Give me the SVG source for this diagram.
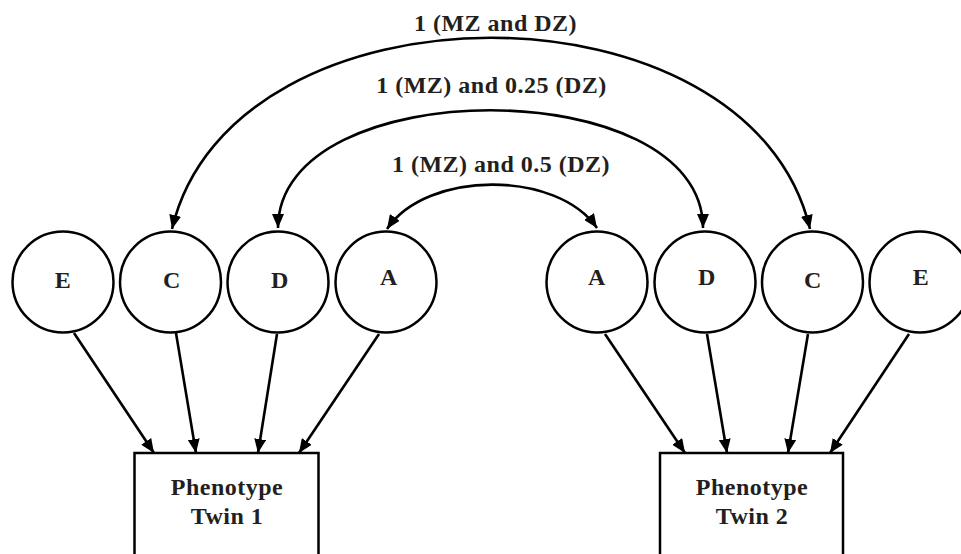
<svg xmlns="http://www.w3.org/2000/svg" width="961" height="554" viewBox="0 0 961 554">
<style>
.node circle{fill:#fff;stroke:#000;stroke-width:2.5}
.node rect{fill:#fff;stroke:#000;stroke-width:2.5}
text{font-family:"Liberation Serif","Times New Roman",serif;font-weight:bold;font-size:24px;fill:#231f20;text-anchor:middle;letter-spacing:0.5px}
.conn path,.conn line{fill:none;stroke:#000;stroke-width:2.6}
</style>
<defs>
<marker id="ah" markerUnits="userSpaceOnUse" viewBox="0 0 14 12" refX="14" refY="6" markerWidth="14" markerHeight="12" orient="auto-start-reverse">
<path d="M0,0 L14,6 L0,12 z" fill="#000"/>
</marker>
</defs>
<rect width="961" height="554" fill="#fff"/>
<g id="connectors" class="conn">
<path d="M172,229 C232,-26 750,-26 810,229" marker-start="url(#ah)" marker-end="url(#ah)"/>
<path d="M278,228 C278,71 703,71 703,228" marker-start="url(#ah)" marker-end="url(#ah)"/>
<path d="M387,229 C427,170 557,170 597,228" marker-start="url(#ah)" marker-end="url(#ah)"/>
<line x1="74" y1="333" x2="154" y2="453" marker-end="url(#ah)"/>
<line x1="176" y1="333" x2="196" y2="453" marker-end="url(#ah)"/>
<line x1="277" y1="334" x2="258" y2="453" marker-end="url(#ah)"/>
<line x1="379" y1="334" x2="299" y2="453" marker-end="url(#ah)"/>
<line x1="605" y1="334" x2="685" y2="453" marker-end="url(#ah)"/>
<line x1="707" y1="334" x2="727" y2="453" marker-end="url(#ah)"/>
<line x1="808" y1="334" x2="788" y2="453" marker-end="url(#ah)"/>
<line x1="909" y1="334" x2="830" y2="453" marker-end="url(#ah)"/>
</g>
<g id="labels">
<text x="495.5" y="31">1 (MZ and DZ)</text>
<text x="491.5" y="93">1 (MZ) and 0.25 (DZ)</text>
<text x="501" y="172">1 (MZ) and 0.5 (DZ)</text>
</g>
<g id="E1" class="node"><circle cx="63" cy="282" r="50.5"/><text x="63" y="288">E</text></g>
<g id="C1" class="node"><circle cx="170.5" cy="282" r="50.5"/><text x="172" y="288">C</text></g>
<g id="D1" class="node"><circle cx="278" cy="282" r="50.5"/><text x="280" y="288">D</text></g>
<g id="A1" class="node"><circle cx="386" cy="282" r="50.5"/><text x="389" y="285">A</text></g>
<g id="A2" class="node"><circle cx="597" cy="282" r="50.5"/><text x="597" y="285">A</text></g>
<g id="D2" class="node"><circle cx="705" cy="282" r="50.5"/><text x="707" y="285">D</text></g>
<g id="C2" class="node"><circle cx="812.5" cy="282" r="50.5"/><text x="813" y="288">C</text></g>
<g id="E2" class="node"><circle cx="920" cy="282" r="50.5"/><text x="921" y="285">E</text></g>
<g id="P1" class="node"><rect x="134.5" y="453" width="184" height="120"/><text x="227" y="495">Phenotype</text><text x="227" y="524">Twin 1</text></g>
<g id="P2" class="node"><rect x="660" y="453" width="183" height="120"/><text x="752" y="495">Phenotype</text><text x="752" y="524">Twin 2</text></g>
</svg>
